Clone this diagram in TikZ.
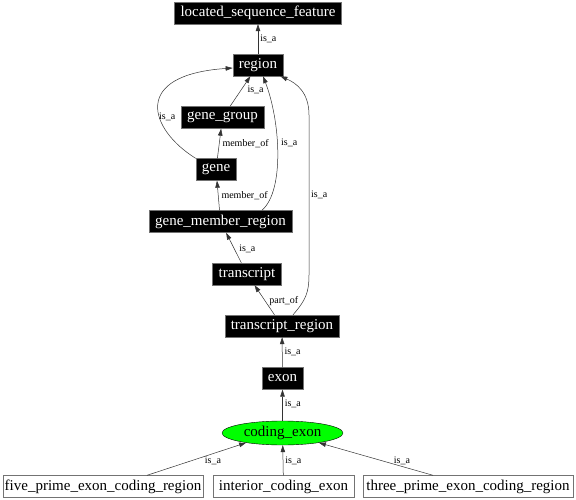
\documentclass[tikz,border=0pt]{standalone}
\usepackage{fontspec}
\setmainfont{Liberation Serif}
\usetikzlibrary{shapes.geometric,arrows.meta,positioning}
\tikzset{
 term/.style={draw=black!55,fill=black,text=white,minimum height=22pt,inner xsep=6pt,inner ysep=0pt,font=\fontsize{15}{18}\selectfont},
 leaf/.style={term,fill=white,text=black,inner xsep=1pt},
 focus/.style={ellipse,draw=black,fill=green,text=black,minimum width=121pt,minimum height=24pt,inner sep=0pt,font=\fontsize{15}{18}\selectfont},
 rel/.style={anchor=west,inner sep=1pt,font=\fontsize{10}{12}\selectfont},
 link/.style={draw=black!80,line width=0.5pt,-{Triangle[length=7pt,width=4.5pt]}},
}

\begin{document}
\begin{tikzpicture}[x=1pt,y=-1pt]
 \useasboundingbox (0,0) rectangle (576,500);
 % terms
 \node[term] (lsf) at (258,13) {located\_sequence\_feature};
 \node[term] (region) at (258,65) {region};
 \node[term] (genegroup) at (222.5,117.5) {gene\_group};
 \node[term] (gene) at (216,169.5) {gene};
 \node[term] (gmr) at (220.5,221.5) {gene\_member\_region};
 \node[term] (transcript) at (247,274) {transcript};
 \node[term] (trregion) at (282,326) {transcript\_region};
 \node[term] (exon) at (282.5,378.5) {exon};
 \node[focus] (coding) at (282.5,433) {coding\_exon};
 \node[leaf,minimum width=200pt] (five) at (103,486.5) {five\_prime\_exon\_coding\_region};
 \node[leaf,minimum width=141pt] (interior) at (283.5,486.5) {interior\_coding\_exon};
 \node[leaf,minimum width=210pt] (three) at (468,486.5) {three\_prime\_exon\_coding\_region};

 % coordinates
 \coordinate (five-top) at ([xshift=44pt]five.north);
 \coordinate (three-top) at ([xshift=-35pt]three.north);

 % straight links
 \foreach \a/\b/\l/\p/\s in {region/lsf/is\_a/.5/1pt, genegroup/region/is\_a/.55/5pt,
   gene/genegroup/member\_of/.5/2pt, gmr/gene/member\_of/.5/2pt, transcript/gmr/is\_a/.48/4pt,
   trregion/transcript/part\_of/.47/3pt, exon/trregion/is\_a/.5/1pt, coding/exon/is\_a/.53/1pt,
   interior/coding/is\_a/.48/1pt} {
  \draw[link] (\a) -- node[rel,pos=\p,xshift=\s] {\l} (\b);
 }
 \draw[link] (five-top) -- node[rel,pos=.45,xshift=12pt] {is\_a} (coding.195);
 \draw[link] (three-top) -- node[rel,pos=.45,xshift=11pt] {is\_a} (coding.345);

 % curved links up to region
 \draw[link] (gene.north west) .. controls (150,130) and (130,75) .. ([yshift=-3pt]region.west);
 \node[rel] (l-gene) at (158,117) {is\_a};
 \draw[link] ([xshift=41.5pt]gmr.north) .. controls (285,190) and (280,120) .. ([xshift=5pt]region.south);
 \node[rel] (l-gmr) at (280,143) {is\_a};
 \draw[link] ([xshift=11pt]trregion.north) .. controls (306,300) and (309,292) .. (309,275)
   -- (309,115) .. controls (309,92) and (296,83) .. ([xshift=-3pt]region.south east);
 \node[rel] (l-tr) at (310,195) {is\_a};
\end{tikzpicture}
\end{document}
